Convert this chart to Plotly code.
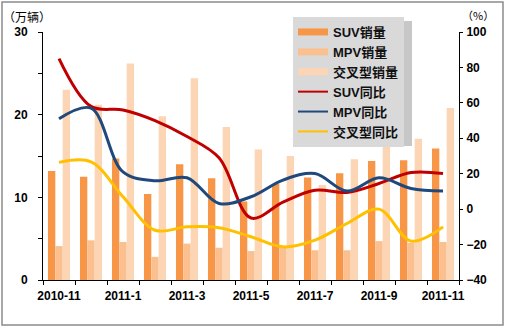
import plotly.graph_objects as go

categories = ["2010-11", "2010-12", "2011-1", "2011-2", "2011-3", "2011-4", "2011-5",
              "2011-6", "2011-7", "2011-8", "2011-9", "2011-10", "2011-11"]
tick_labels = [c if i % 2 == 0 else "" for i, c in enumerate(categories)]

suv_sales = [13.2, 12.5, 14.7, 10.4, 14.0, 12.3, 9.5, 11.6, 12.4, 12.9, 14.4, 14.5, 15.9]
mpv_sales = [4.1, 4.8, 4.6, 2.8, 4.4, 3.9, 3.5, 4.0, 3.6, 3.6, 4.7, 4.5, 4.6]
cross_sales = [23.0, 21.2, 26.2, 19.8, 24.4, 18.5, 15.8, 15.0, 11.5, 14.6, 17.2, 17.1, 20.8]

suv_yoy = [85, 58, 56, 50, 41, 29, -5, 4, 10.7, 9.4, 14.5, 20.7, 20.1]
mpv_yoy = [51, 57, 21, 16, 17.7, 3.2, 7, 16.4, 20.1, 10.2, 17.7, 11.7, 10.2]
cross_yoy = [26.4, 26.7, 7, -11.9, -10, -10.5, -15.6, -21.3, -17.5, -8.1, 0, -18, -10]

left_ticks = [0, 5, 10, 15, 20, 25, 30]
left_text = ["0", "", "10", "", "20", "", "30"]
right_ticks = [-40, -20, 0, 20, 40, 60, 80, 100]

bar_colors = ["#F79646", "#FAC090", "#FCD5B4"]
line_colors = ["#C00000", "#1F497D", "#FFC000"]
names = ["SUV销量", "MPV销量", "交叉型销量", "SUV同比", "MPV同比", "交叉型同比"]

FONT = "Liberation Sans, Arial, Noto Sans CJK SC"

fig = go.Figure()

for vals, col, nm in zip([suv_sales, mpv_sales, cross_sales], bar_colors, names[:3]):
    fig.add_trace(go.Bar(x=categories, y=vals, marker=dict(color=col, line=dict(width=0)),
                         name=nm, showlegend=False, yaxis="y"))

for vals, col, nm in zip([suv_yoy, mpv_yoy, cross_yoy], line_colors, names[3:]):
    fig.add_trace(go.Scatter(x=categories, y=vals, mode="lines", yaxis="y2",
                             line=dict(color=col, width=3, shape="spline", smoothing=1.0),
                             name=nm, showlegend=False))

# legend entries (bars shown as thick strokes, like the reference)
for col, nm in zip(bar_colors, names[:3]):
    fig.add_trace(go.Scatter(x=[None], y=[None], mode="lines", name=nm,
                             line=dict(color=col, width=7)))
for col, nm in zip(line_colors, names[3:]):
    fig.add_trace(go.Scatter(x=[None], y=[None], mode="lines", name=nm,
                             line=dict(color=col, width=2)))

W, H = 505, 327
L, R, T, B = 43, 46, 32, 47
pw, ph = W - L - R, H - T - B

def px(x):
    return (x - L) / pw

def py(y):
    return (H - B - y) / ph

shapes = [
    # outer frame
    dict(type="rect", xref="paper", yref="paper", x0=px(2), x1=px(503), y0=py(325), y1=py(2),
         line=dict(color="#8C8C8C", width=1.5), layer="below"),
    # legend shadow
    dict(type="rect", xref="paper", yref="paper", x0=px(297), x1=px(412), y0=py(146), y1=py(21),
         fillcolor="rgba(0,0,0,0.22)", line=dict(width=0), layer="above"),
]

annotations = [
    dict(text="（万辆）", xref="paper", yref="paper", x=px(27), y=py(16), showarrow=False,
         font=dict(family="Noto Sans CJK SC", size=12, color="#000000"), xanchor="center", yanchor="middle"),
    dict(text="（%）", xref="paper", yref="paper", x=px(478), y=py(15), showarrow=False,
         font=dict(family="Noto Sans CJK SC", size=11, color="#000000"), xanchor="center", yanchor="middle"),
]

fig.update_layout(
    width=W, height=H,
    margin=dict(l=L, r=R, t=T, b=B, pad=0),
    paper_bgcolor="white", plot_bgcolor="white",
    barmode="group", bargap=0.31, bargroupgap=0,
    font=dict(family=FONT, size=12, color="#000000"),
    xaxis=dict(type="category", range=[-0.5, len(categories) - 0.5],
               tickvals=categories, ticktext=tick_labels, tickson="boundaries", tickangle=0,
               ticks="outside", ticklen=4, tickcolor="#000000", showline=True, linecolor="#000000",
               linewidth=1, showgrid=False, zeroline=False,
               tickfont=dict(family=FONT, size=12, color="#000000", weight="bold"),
               ticklabelstandoff=5),
    yaxis=dict(range=[0, 30], tickvals=left_ticks, ticktext=left_text, ticks="outside", ticklen=4,
               tickcolor="#000000", showline=True, linecolor="#000000", linewidth=1, showgrid=False,
               zeroline=False, tickfont=dict(family=FONT, size=12, color="#000000", weight="bold"),
               ticklabelstandoff=8),
    yaxis2=dict(range=[-40, 100], tickvals=right_ticks, overlaying="y", side="right", ticks="outside",
                ticklen=3, tickcolor="#000000", showline=True, linecolor="#000000", linewidth=1,
                showgrid=False, zeroline=False,
                tickfont=dict(family=FONT, size=12, color="#000000", weight="bold"),
                ticklabelstandoff=1),
    legend=dict(x=px(293), y=py(17), xanchor="left", yanchor="top",
                bgcolor="#D9D9D9", borderwidth=0,
                font=dict(family=FONT, size=13, color="#111111", weight="bold"),
                itemwidth=30, tracegroupgap=0),
    shapes=shapes,
    annotations=annotations,
)

fig.write_html("out.html")
